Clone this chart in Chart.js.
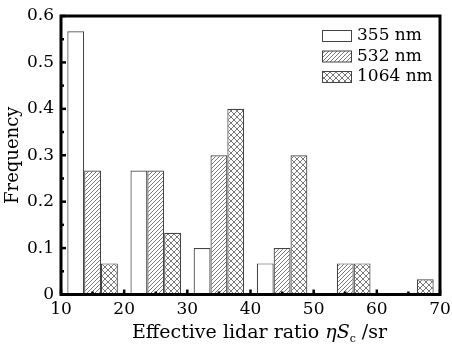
<!DOCTYPE html>
<html>
<head>
<meta charset="utf-8">
<script src="https://cdn.jsdelivr.net/npm/chart.js@4"></script>
<style>
  body { margin: 0; background: #fff; }
  #wrap { width: 452px; height: 344px; }
</style>
</head>
<body>
<div id="wrap"><canvas id="grafico" width="452" height="344"></canvas></div>
<script>
const binCenters = [15, 25, 35, 45, 55, 65];
const freq355 = [0.567, 0.267, 0.1, 0.067, 0, 0];
const freq532 = [0.267, 0.267, 0.3, 0.1, 0.067, 0];
const freq1064 = [0.067, 0.133, 0.4, 0.3, 0.067, 0.033];
const seriesLabels = ["355 nm", "532 nm", "1064 nm"];
const xRange = [10, 70];
const yRange = [0, 0.6];
const xStep = 10;
const yStep = 0.1;
const yTitle = "Frequency";
const xTitleParts = ["Effective lidar ratio ", "ηS", "c", " /sr"];

const FONT = "'DejaVu Serif', serif";

// patrones de relleno
function hatch(size, cross) {
  const c = document.createElement("canvas");
  c.width = size;
  c.height = size;
  const g = c.getContext("2d");
  g.fillStyle = "#fff";
  g.fillRect(0, 0, size, size);
  g.strokeStyle = "#555";
  g.lineWidth = 0.8;
  g.beginPath();
  g.moveTo(-1, size + 1);
  g.lineTo(size + 1, -1);
  g.moveTo(-1, 1);
  g.lineTo(1, -1);
  g.moveTo(size - 1, size + 1);
  g.lineTo(size + 1, size - 1);
  if (cross) {
    g.moveTo(-1, -1);
    g.lineTo(size + 1, size + 1);
    g.moveTo(size - 1, -1);
    g.lineTo(size + 1, 1);
    g.moveTo(-1, size - 1);
    g.lineTo(1, size + 1);
  }
  g.stroke();
  return g.createPattern(c, "repeat");
}
const ctx = document.getElementById("grafico").getContext("2d");
const fills = ["#fff", hatch(4, false), hatch(6, true)];
const series = [freq355, freq532, freq1064];

const toPoints = (arr) => arr.map((v, i) => ({ x: binCenters[i], y: v }));

// marco, ticks, leyenda y titulo x
const extras = {
  id: "extras",
  afterDatasetsDraw(chart) {
    const { ctx, chartArea: a, scales } = chart;
    ctx.save();
    ctx.fillStyle = "#000";
    // ticks hacia dentro
    for (let v = xRange[0]; v <= xRange[1]; v += xStep / 2) {
      const px = scales.x.getPixelForValue(v);
      const len = v % xStep === 0 ? 5 : 3;
      ctx.fillRect(px - 1.25, a.bottom - len, 2.5, len);
    }
    for (let k = 0; k <= Math.round((yRange[1] - yRange[0]) / (yStep / 2)); k++) {
      const v = yRange[0] + (k * yStep) / 2;
      const py = scales.y.getPixelForValue(v);
      const len = k % 2 === 0 ? 5 : 3;
      ctx.fillRect(a.left, py - 1.25, len, 2.5);
    }
    // marco
    ctx.strokeStyle = "#000";
    ctx.lineWidth = 3;
    ctx.strokeRect(a.left, a.top, a.right - a.left, a.bottom - a.top);

    // leyenda
    ctx.font = "17px " + FONT;
    ctx.textBaseline = "middle";
    ctx.textAlign = "left";
    chart.data.datasets.forEach((ds, i) => {
      const y = a.top + 20 + i * 20.5;
      ctx.fillStyle = ds.backgroundColor;
      ctx.fillRect(a.left + 261, y - 5.5, 29, 11);
      ctx.strokeStyle = "#444";
      ctx.lineWidth = 1;
      ctx.strokeRect(a.left + 261.5, y - 5.5, 29, 11);
      ctx.fillStyle = "#000";
      ctx.fillText(ds.label, a.left + 296, y);
    });

    // titulo eje x con cursiva y subindice
    const base = 338;
    const fonts = [
      "19px " + FONT,
      "italic 19px " + FONT,
      "11px " + FONT,
      "19px " + FONT,
    ];
    const widths = xTitleParts.map((t, i) => {
      ctx.font = fonts[i];
      return ctx.measureText(t).width;
    });
    const total = widths.reduce((s, w) => s + w, 0);
    let x = (a.left + a.right) / 2 + 9 - total / 2;
    ctx.textBaseline = "alphabetic";
    ctx.fillStyle = "#000";
    xTitleParts.forEach((t, i) => {
      ctx.font = fonts[i];
      ctx.fillText(t, x, i === 2 ? base + 4 : base);
      x += widths[i];
    });
    ctx.restore();
  },
};

new Chart(ctx, {
  type: "bar",
  data: {
    datasets: series.map((arr, i) => ({
      label: seriesLabels[i],
      data: toPoints(arr),
      backgroundColor: fills[i],
      borderColor: "#444",
      borderWidth: 1.2,
      categoryPercentage: 0.8,
      barPercentage: 1.0,
    })),
  },
  options: {
    responsive: false,
    animation: false,
    layout: { padding: { top: 16, right: 12, left: 0, bottom: 0 } },
    plugins: { legend: { display: false }, tooltip: { enabled: false } },
    scales: {
      x: {
        type: "linear",
        min: xRange[0],
        max: xRange[1],
        offset: false,
        grid: { display: false, drawTicks: false, offset: false },
        border: { display: false },
        ticks: {
          stepSize: xStep,
          padding: 5,
          color: "#000",
          font: { family: FONT, size: 17 },
          maxRotation: 0,
        },
        afterFit: (s) => {
          s.height = 49.5;
          s.paddingLeft = 0;
          s.paddingRight = 0;
        },
      },
      y: {
        min: yRange[0],
        max: yRange[1],
        grid: { display: false, drawTicks: false },
        border: { display: false },
        ticks: {
          stepSize: yStep,
          padding: 7,
          color: "#000",
          font: { family: FONT, size: 17 },
        },
        title: {
          display: true,
          text: yTitle,
          color: "#000",
          font: { family: FONT, size: 18 },
          padding: { top: 3, bottom: 0 },
        },
        afterFit: (s) => {
          s.width = 61;
          s.paddingTop = 0;
          s.paddingBottom = 0;
        },
      },
    },
  },
  plugins: [extras],
});
</script>
</body>
</html>
